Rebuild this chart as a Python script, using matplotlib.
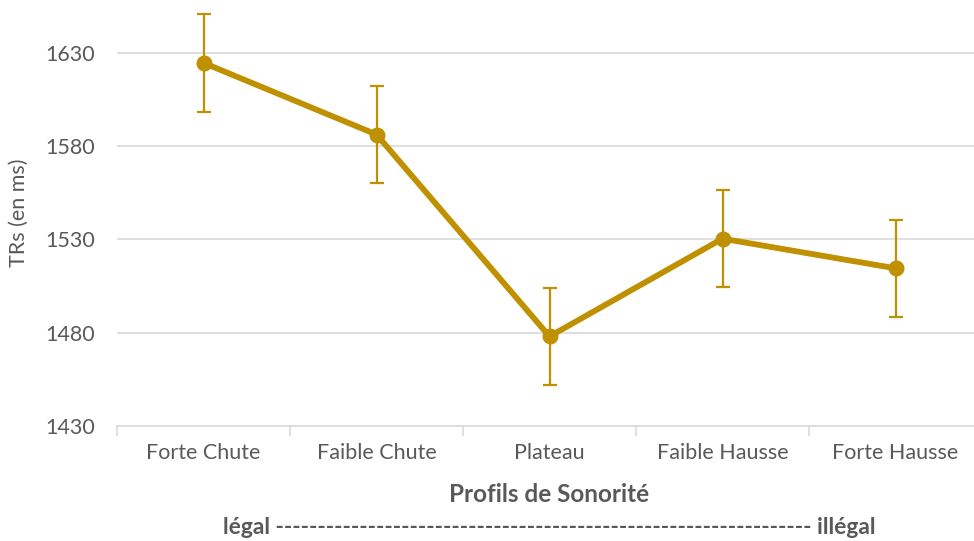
import matplotlib.pyplot as plt
import numpy as np

categories = ["Forte Chute", "Faible Chute", "Plateau", "Faible Hausse", "Forte Hausse"]
rt_means = [1624.6, 1586.2, 1478.0, 1530.4, 1514.5]
rt_errors = [26.1, 26.0, 26.0, 26.0, 26.0]
y_ticks = [1430, 1480, 1530, 1580, 1630]

gold = "#bf9000"
text_grey = "#595959"
plt.rcParams['font.family'] = ['Lato', 'DejaVu Sans']

fig = plt.figure(figsize=(9.74, 5.41), dpi=100)
ax = fig.add_axes([117 / 974, 1 - 426 / 541, 865 / 974, 426 / 541])

x = np.arange(len(categories))
ax.errorbar(x, rt_means, yerr=rt_errors, color=gold, lw=4.2, marker='o', ms=10.5,
            ecolor=gold, elinewidth=1.6, capsize=5, capthick=1.6, zorder=3)

ax.set_xlim(-0.5, len(categories) - 0.5)
ax.set_ylim(1430, 1430 + 426 / 1.866)
ax.set_yticks(y_ticks)
ax.grid(axis='y', color='#d9d9d9', lw=1.2)
ax.set_axisbelow(True)

for side in ['left', 'right', 'top']:
    ax.spines[side].set_visible(False)
ax.spines['bottom'].set_color('#d9d9d9')
ax.spines['bottom'].set_linewidth(1.2)

ax.set_xticks(x)
ax.set_xticklabels(categories)
ax.set_xticks(np.arange(-0.5, len(categories)), minor=True)
ax.tick_params(axis='x', which='major', length=0, pad=12, labelsize=15.5, labelcolor=text_grey)
ax.tick_params(axis='x', which='minor', length=7, color='#d9d9d9', width=1.2)
ax.tick_params(axis='y', length=0, pad=16, labelsize=15.5, labelcolor=text_grey)

ax.set_ylabel("TRs (en ms)", fontsize=15.5, color=text_grey, labelpad=12)

fig.text(549 / 974, 1 - 495 / 541, "Profils de Sonorité", ha='center', va='center',
         fontsize=17.5, fontweight='bold', color=text_grey)
fig.text(549 / 974, 1 - 527 / 541,
         "légal " + "-" * 64 + " illégal", ha='center', va='center',
         fontsize=16.5, fontweight='bold', color=text_grey)

fig.savefig("out.png", dpi=100)
